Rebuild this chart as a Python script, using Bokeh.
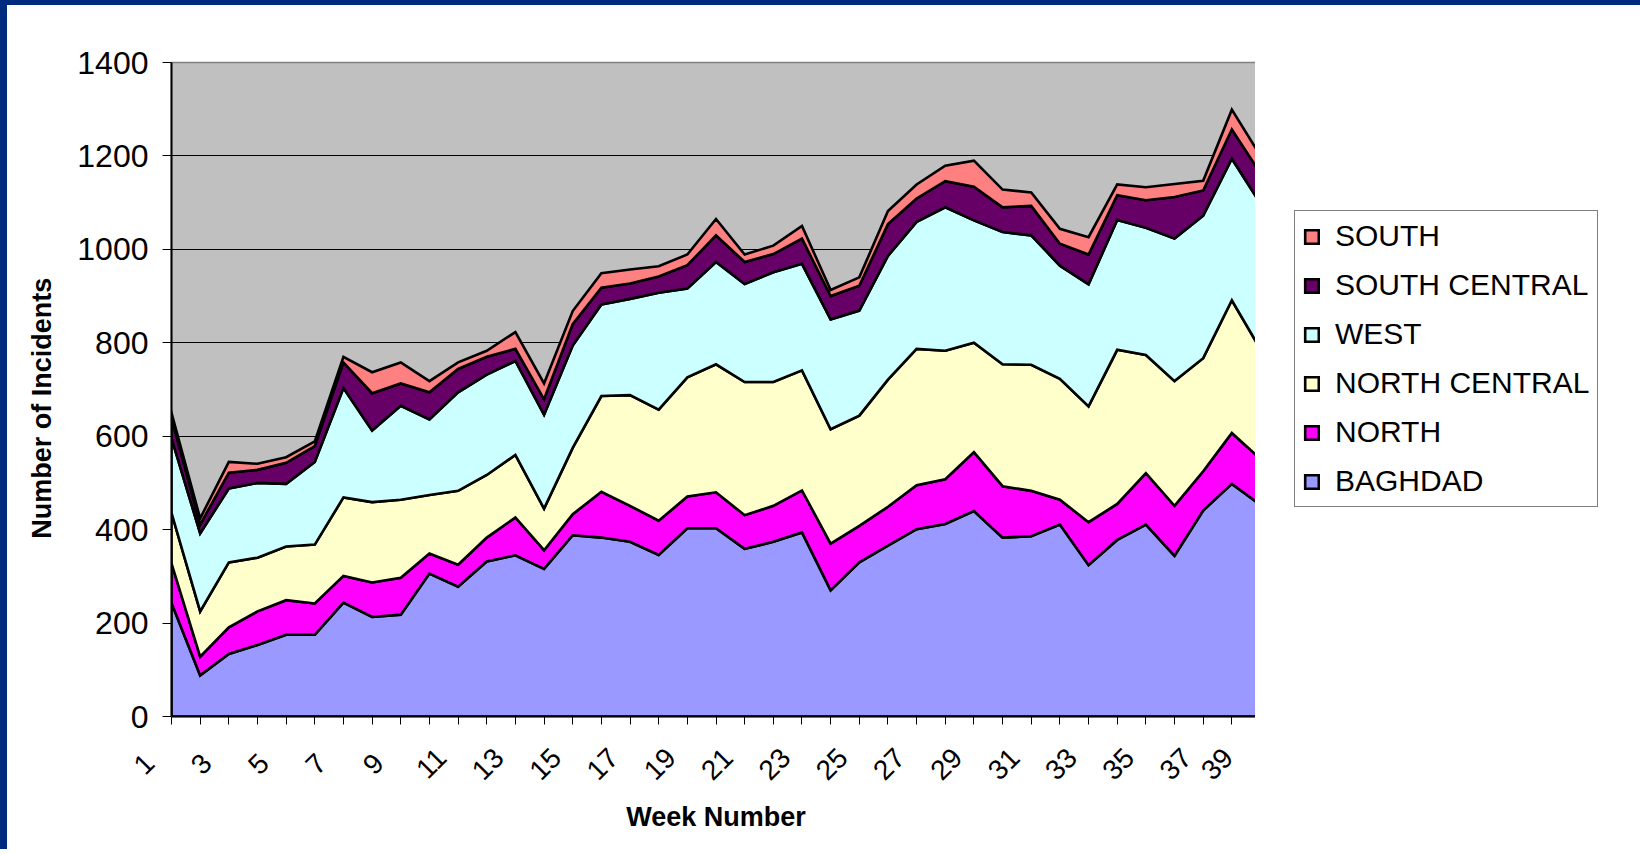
import math
from bokeh.plotting import figure
from bokeh.layouts import row
from bokeh.models import Range1d, FixedTicker, Legend, LegendItem
from bokeh.embed import file_html
from bokeh.resources import INLINE

WEEKS = list(range(1, 40))
X_LABELED = [1, 3, 5, 7, 9, 11, 13, 15, 17, 19, 21, 23, 25, 27, 29, 31, 33, 35, 37, 39]
Y_TICKS = [0, 200, 400, 600, 800, 1000, 1200, 1400]

BAGHDAD = [243, 88, 134, 153, 175, 175, 244, 213, 218, 306, 278, 332, 345, 316, 388, 383, 374, 346, 403, 403,
           359, 374, 394, 270, 330, 366, 401, 412, 440, 383, 386, 411, 324, 378, 411, 344, 441, 498, 453]
NORTH = [85, 40, 57, 72, 74, 67, 57, 74, 79, 43, 47, 51, 81, 40, 45, 98, 77, 73, 68, 77,
         72, 77, 90, 100, 78, 83, 94, 96, 126, 110, 97, 53, 92, 77, 110, 107, 84, 109, 98]
NORTH_CENTRAL = [108, 97, 139, 115, 115, 126, 168, 172, 167, 125, 158, 134, 134, 89, 142, 205, 237, 238, 255, 274,
                 285, 265, 257, 245, 236, 272, 292, 275, 234, 261, 270, 259, 248, 330, 253, 267, 242, 284, 235]
WEST = [160, 167, 158, 160, 134, 177, 234, 153, 201, 162, 211, 215, 201, 201, 219, 196, 206, 250, 190, 219,
        210, 235, 228, 235, 225, 265, 272, 307, 262, 283, 277, 242, 261, 278, 272, 305, 305, 303, 312]
SOUTH_CENTRAL = [44, 19, 34, 28, 45, 34, 55, 80, 48, 58, 50, 38, 26, 33, 46, 36, 33, 35, 50, 57,
                 47, 39, 54, 50, 53, 68, 50, 56, 72, 53, 63, 47, 64, 53, 59, 89, 54, 63, 65]
SOUTH = [10, 13, 23, 13, 12, 10, 12, 45, 45, 24, 14, 13, 36, 34, 28, 31, 30, 22, 23, 35,
         16, 18, 27, 13, 18, 28, 30, 33, 56, 38, 29, 32, 37, 23, 28, 28, 21, 42, 37]

SERIES = [
    ("BAGHDAD", BAGHDAD, "#9999FF"),
    ("NORTH", NORTH, "#FF00FF"),
    ("NORTH CENTRAL", NORTH_CENTRAL, "#FFFFCC"),
    ("WEST", WEST, "#CCFFFF"),
    ("SOUTH CENTRAL", SOUTH_CENTRAL, "#660066"),
    ("SOUTH", SOUTH, "#FF8080"),
]

FONT = "Liberation Sans"
NAVY = "#002a7e"
NBSP = "\u00a0"
LINE_W = 2.6


def tick_text(w):
    if w not in X_LABELED:
        return ""
    s = str(w)
    # keep the visible text centred at a constant offset from its tick
    return s + NBSP * (5 - len(s))


p = figure(width=1255, height=849, output_backend="svg", toolbar_location=None,
           x_range=Range1d(1, 39), y_range=Range1d(0, 1400),
           min_border_left=164, min_border_right=2, min_border_top=57, min_border_bottom=138,
           background_fill_color="#C0C0C0", border_fill_color="white")
p.styles = {"border-top": "5px solid " + NAVY, "border-left": "7px solid " + NAVY}
p.outline_line_color = "#808080"
p.outline_line_width = 1.5

q = figure(width=385, height=849, output_backend="svg", toolbar_location=None,
           x_range=Range1d(-3, -2), y_range=Range1d(-3, -2),
           x_axis_location=None, y_axis_location=None,
           min_border=0, background_fill_color="white", border_fill_color="white")
q.styles = {"border-top": "5px solid " + NAVY}
q.outline_line_color = None
q.grid.visible = False

lower = [0] * len(WEEKS)
legend_renderers = {}
for name, vals, color in SERIES:
    upper = [a + b for a, b in zip(lower, vals)]
    xs = WEEKS + WEEKS[::-1]
    ys = upper + lower[::-1]
    p.patch(xs, ys, fill_color=color, line_color="black", line_width=LINE_W, line_join="miter")
    # same layer in the legend panel (outside its visible range) so the legend gets a swatch
    legend_renderers[name] = q.patch(xs, ys, fill_color=color, line_color="black",
                                     line_width=LINE_W, line_join="miter")
    lower = upper

# axes
xa = p.xaxis[0]
xa.ticker = FixedTicker(ticks=WEEKS)
xa.major_label_overrides = {w: tick_text(w) for w in WEEKS}
xa.major_label_orientation = math.pi / 4
xa.major_label_text_font = FONT
xa.major_label_text_font_size = "28px"
xa.major_label_text_color = "black"
xa.major_label_standoff = 12
xa.major_tick_in = 0
xa.major_tick_out = 8
xa.major_tick_line_color = "black"
xa.minor_tick_line_color = None
xa.axis_line_color = "black"
xa.axis_line_width = 2
xa.axis_label = "Week Number"
xa.axis_label_text_font = FONT
xa.axis_label_text_font_style = "bold"
xa.axis_label_text_font_size = "27px"
xa.axis_label_text_color = "black"
xa.axis_label_standoff = 2

ya = p.yaxis[0]
ya.ticker = FixedTicker(ticks=Y_TICKS)
ya.major_label_text_font = FONT
ya.major_label_text_font_size = "32px"
ya.major_label_text_color = "black"
ya.major_label_standoff = 14
ya.major_tick_in = 0
ya.major_tick_out = 9
ya.major_tick_line_color = "black"
ya.minor_tick_line_color = None
ya.axis_line_color = "black"
ya.axis_line_width = 2
ya.axis_label = "Number of Incidents" + NBSP * 5
ya.axis_label_text_font = FONT
ya.axis_label_text_font_style = "bold"
ya.axis_label_text_font_size = "27px"
ya.axis_label_text_color = "black"
ya.axis_label_standoff = 17

p.xgrid.grid_line_color = None
p.ygrid.ticker = FixedTicker(ticks=Y_TICKS[1:-1])
p.ygrid.grid_line_color = "black"
p.ygrid.grid_line_width = 1

items = [LegendItem(label=name, renderers=[legend_renderers[name]]) for name, _, _ in SERIES[::-1]]
legend = Legend(items=items, location=(39, 209))
legend.label_text_font = FONT
legend.label_text_font_size = "30px"
legend.label_text_color = "black"
legend.glyph_width = 17
legend.glyph_height = 17
legend.label_height = 33
legend.label_standoff = 15
legend.spacing = 15
legend.padding = 8
legend.margin = 0
legend.border_line_color = "black"
legend.border_line_width = 1
legend.background_fill_color = "white"
legend.background_fill_alpha = 1
q.add_layout(legend, "center")

layout = row(p, q, spacing=0)
open("out.html", "w").write(file_html(layout, INLINE))
